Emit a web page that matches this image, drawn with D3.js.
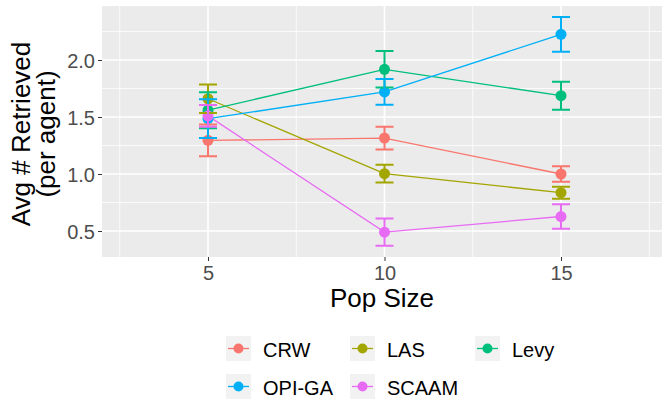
<!DOCTYPE html>
<html><head><meta charset="utf-8">
<script src="https://cdn.jsdelivr.net/npm/d3@7"></script>
<style>body{margin:0;background:#fff}svg{display:block}</style>
</head><body>
<svg id="c" width="662" height="402"></svg>
<script>
const popSizes = [5, 10, 15];
const seriesNames = ["CRW", "LAS", "Levy", "OPI-GA", "SCAAM"];
const seriesColors = ["#F8766D", "#A3A500", "#00BF7D", "#00B0F6", "#E76BF3"];
const meanCRW = [1.295, 1.315, 1.00];
const seCRW = [0.14, 0.10, 0.067];
const meanLAS = [1.66, 1.003, 0.836];
const seLAS = [0.125, 0.078, 0.053];
const meanLevy = [1.56, 1.918, 1.687];
const seLevy = [0.158, 0.16, 0.123];
const meanOPI = [1.485, 1.72, 2.225];
const seOPI = [0.17, 0.113, 0.152];
const meanSCAAM = [1.51, 0.49, 0.627];
const seSCAAM = [0.095, 0.12, 0.107];
const yTicks = [0.5, 1.0, 1.5, 2.0];
const yMinor = [0.75, 1.25, 1.75, 2.25];
const xTicks = [5, 10, 15];
const xMinor = [2.5, 7.5, 12.5, 17.5];

const means = [meanCRW, meanLAS, meanLevy, meanOPI, meanSCAAM];
const ses = [seCRW, seLAS, seLevy, seOPI, seSCAAM];
const series = seriesNames.map((n, i) => ({
  name: n, color: seriesColors[i],
  pts: popSizes.map((p, j) => ({x: p, y: means[i][j], se: ses[i][j]}))
}));

const svg = d3.select("#c");
const P = {l: 102, r: 662, t: 6, b: 257};
const x = d3.scaleLinear().domain([5, 15]).range([208, 561]);
const y = d3.scaleLinear().domain([0.5, 2.0]).range([231, 60]);
const ff = "Liberation Sans, Arial, sans-serif";

svg.append("rect").attr("x", P.l).attr("y", P.t).attr("width", P.r - P.l).attr("height", P.b - P.t).attr("fill", "#EBEBEB");
const grid = svg.append("g");
grid.selectAll(".ymin").data(yMinor).join("line").attr("x1", P.l).attr("x2", P.r)
  .attr("y1", d => y(d)).attr("y2", d => y(d)).attr("stroke", "#fff").attr("stroke-width", 0.8);
grid.selectAll(".xmin").data(xMinor).join("line").attr("y1", P.t).attr("y2", P.b)
  .attr("x1", d => x(d)).attr("x2", d => x(d)).attr("stroke", "#fff").attr("stroke-width", 0.8);
grid.selectAll(".ymaj").data(yTicks).join("line").attr("x1", P.l).attr("x2", P.r)
  .attr("y1", d => y(d)).attr("y2", d => y(d)).attr("stroke", "#fff").attr("stroke-width", 1.6);
grid.selectAll(".xmaj").data(xTicks).join("line").attr("y1", P.t).attr("y2", P.b)
  .attr("x1", d => x(d)).attr("x2", d => x(d)).attr("stroke", "#fff").attr("stroke-width", 1.6);

// axes
const yAx = svg.append("g").attr("transform", `translate(${P.l},0)`)
  .call(d3.axisLeft(y).tickValues(yTicks).tickFormat(d3.format(".1f")).tickSize(4).tickPadding(3));
const xAx = svg.append("g").attr("transform", `translate(0,${P.b})`)
  .call(d3.axisBottom(x).tickValues(xTicks).tickFormat(d3.format("d")).tickSize(4).tickPadding(3));
[yAx, xAx].forEach(a => {
  a.select(".domain").remove();
  a.selectAll(".tick line").attr("stroke", "#333333").attr("stroke-width", 1);
  a.selectAll(".tick text").attr("fill", "#4D4D4D").style("font-family", ff).style("font-size", "20px");
});
xAx.selectAll(".tick text").attr("dy", null).attr("y", 23);
yAx.selectAll(".tick text").attr("dy", "0.36em");

const line = d3.line().x(d => x(d.x)).y(d => y(d.y));
const gl = svg.append("g");
series.forEach(s => {
  gl.append("path").datum(s.pts).attr("d", line).attr("fill", "none").attr("stroke", s.color).attr("stroke-width", 1.3);
});
series.forEach(s => {
  gl.selectAll(null).data(s.pts).join("circle").attr("cx", d => x(d.x)).attr("cy", d => y(d.y)).attr("r", 5.5).attr("fill", s.color);
});
const cw = 9;
series.forEach(s => {
  const g = gl.append("g").attr("stroke", s.color).attr("stroke-width", 2).attr("fill", "none");
  s.pts.forEach(d => {
    const X = x(d.x), T = y(d.y + d.se), B = y(d.y - d.se);
    g.append("path").attr("d", `M${X - cw},${T}H${X + cw}M${X},${T}V${B}M${X - cw},${B}H${X + cw}`);
  });
});

// axis titles
svg.append("text").attr("x", (P.l + P.r) / 2).attr("y", 307).attr("text-anchor", "middle")
  .style("font-family", ff).style("font-size", "26px").attr("fill", "#000").text("Pop Size");
const yt = svg.append("text").attr("transform", `translate(29.5,134) rotate(-90)`)
  .attr("text-anchor", "middle").style("font-family", ff).style("font-size", "26px").attr("fill", "#000");
yt.append("tspan").attr("x", 0).attr("dy", 0).text("Avg # Retrieved");
yt.append("tspan").attr("x", 0).attr("dy", 25).text("(per agent)");

// legend
const legPos = [[226, 336], [350, 336], [475, 336], [226, 374], [350, 374]];
series.forEach((s, i) => {
  const [lx, ly] = legPos[i];
  const g = svg.append("g").attr("transform", `translate(${lx},${ly})`);
  g.append("rect").attr("width", 25).attr("height", 25).attr("fill", "#F2F2F2");
  g.append("line").attr("x1", 2).attr("x2", 23).attr("y1", 12.5).attr("y2", 12.5).attr("stroke", s.color).attr("stroke-width", 1.3);
  g.append("circle").attr("cx", 12.5).attr("cy", 12.5).attr("r", 5).attr("fill", s.color);
  g.append("text").attr("x", 37).attr("y", 20.5).style("font-family", ff).style("font-size", "20px").attr("fill", "#000").text(s.name);
});
</script>
</body></html>
